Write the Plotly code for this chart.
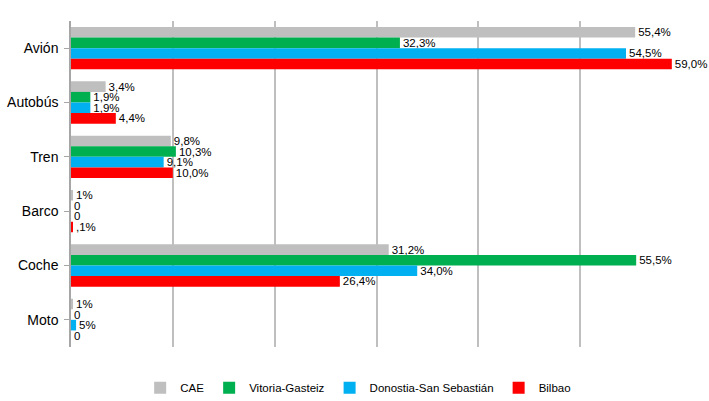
import plotly.graph_objects as go

categories = ["Avión", "Autobús", "Tren", "Barco", "Coche", "Moto"]
series_names = ["CAE", "Vitoria-Gasteiz", "Donostia-San Sebastián", "Bilbao"]
cae = [55.4, 3.4, 9.8, 0.1, 31.2, 0.1]
vitoria = [32.3, 1.9, 10.3, 0.0, 55.5, 0.0]
donostia = [54.5, 1.9, 9.1, 0.0, 34.0, 0.5]
bilbao = [59.0, 4.4, 10.0, 0.1, 26.4, 0.0]
labels_cae = ["55,4%", "3,4%", "9,8%", "1%", "31,2%", "1%"]
labels_vitoria = ["32,3%", "1,9%", "10,3%", "0", "55,5%", "0"]
labels_donostia = ["54,5%", "1,9%", "9,1%", "0", "34,0%", "5%"]
labels_bilbao = ["59,0%", "4,4%", "10,0%", ",1%", "26,4%", "0"]
colors = ["#BFBFBF", "#00B050", "#00B0F0", "#FF0000"]

values = [cae, vitoria, donostia, bilbao]
labels = [labels_cae, labels_vitoria, labels_donostia, labels_bilbao]

FONT = "Liberation Sans Narrow, Arial Narrow, Liberation Sans, Arial"

fig = go.Figure()
for name, vals, labs, col in zip(series_names, values, labels, colors):
    fig.add_trace(go.Bar(
        y=categories, x=vals, name=name, orientation="h",
        marker=dict(color=col, line=dict(width=0)),
        text=labs, textposition="outside", cliponaxis=False,
        constraintext="none",
        textfont=dict(family=FONT, size=11.5, color="black"),
    ))

fig.update_layout(
    width=709, height=401,
    barmode="group", bargap=0.22, bargroupgap=0,
    plot_bgcolor="white", paper_bgcolor="white",
    margin=dict(l=71, r=27, t=21, b=54, autoexpand=False),
    font=dict(family=FONT, size=13, color="black"),
    xaxis=dict(range=[0, 60], dtick=10, showticklabels=False, showgrid=True,
               gridcolor="#BFBFBF", gridwidth=1.5, zeroline=False, showline=False,
               automargin=False),
    yaxis=dict(autorange="reversed", showline=True, linecolor="#A6A6A6", linewidth=1.5,
               ticks="outside", ticklen=5, tickcolor="#A6A6A6", ticklabelstandoff=3,
               tickfont=dict(size=14), automargin=False),
    legend=dict(orientation="h", x=0.47, xanchor="center", y=-0.125, yanchor="middle",
                font=dict(size=11.5), traceorder="normal", itemwidth=30),
    showlegend=True,
)

fig.write_html("out.html", config={"displayModeBar": False},
               post_script="document.body.style.margin='0';")
